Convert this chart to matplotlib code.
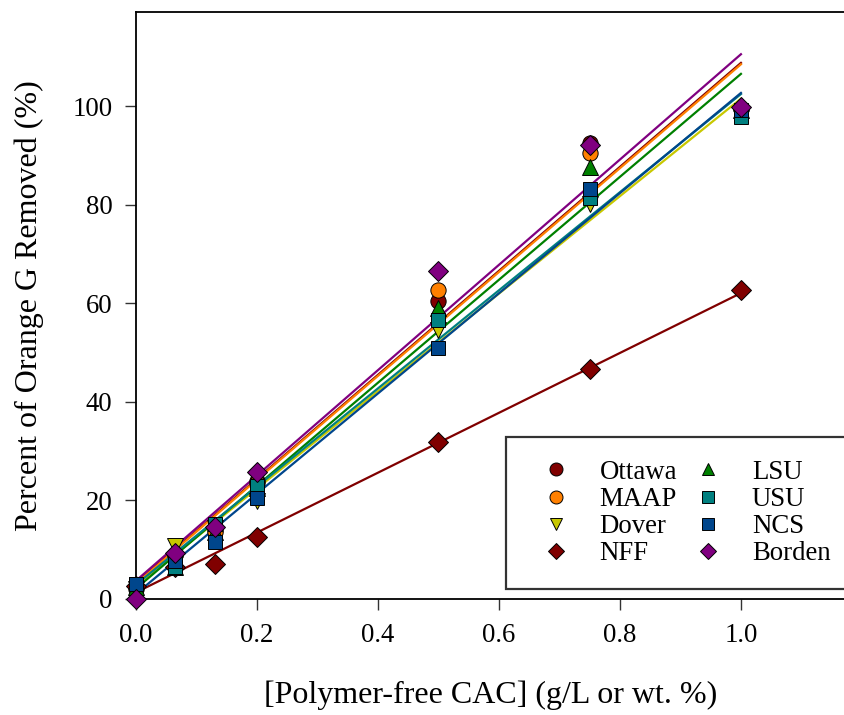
import numpy as np
import matplotlib
matplotlib.use("Agg")
import matplotlib.pyplot as plt

plt.rcParams["font.family"] = ["Liberation Serif", "DejaVu Serif"]

# concentration of polymer-free CAC (g/L or wt. %)
conc = [0.0, 0.065, 0.13, 0.2, 0.5, 0.75, 1.0]

# percent of Orange G removed (%)
ottawa = [2.5, 9.0, 14.0, 24.0, 60.5, 92.5, 99.5]
maap = [2.0, 9.0, 13.5, 23.5, 62.7, 90.4, 99.5]
dover = [2.0, 10.7, 14.5, 19.8, 54.5, 80.2, 98.3]
nff = [2.7, 6.5, 7.2, 12.6, 31.8, 46.6, 62.6]
lsu = [2.5, 6.5, 13.5, 22.5, 59.0, 87.7, 99.3]
usu = [3.0, 6.5, 15.3, 23.0, 56.7, 81.4, 97.8]
ncs = [3.0, 7.8, 11.5, 20.5, 51.0, 83.2, 99.2]
borden = [0.0, 9.4, 14.7, 25.8, 66.6, 92.1, 99.9]

names = ["Ottawa", "MAAP", "Dover", "NFF", "LSU", "USU", "NCS", "Borden"]
series = [ottawa, maap, dover, nff, lsu, usu, ncs, borden]
colors = ["#800000", "#ff8000", "#c8c800", "#800000", "#008000", "#008080", "#00468c", "#800080"]
markers = ["o", "o", "v", "D", "^", "s", "s", "D"]
sizes = [11, 11, 11, 10, 11, 10.5, 10.5, 10]

fig = plt.figure(figsize=(8.44, 7.15), dpi=100)
ax = fig.add_axes([136 / 844, 1 - 599 / 715, 709 / 844, 587 / 715])

x = np.array(conc)
xl = np.linspace(0, 1.0, 50)
# linear fits under the markers
for y, c in zip(series, colors):
    k, b = np.polyfit(x, np.array(y), 1)
    ax.plot(xl, k * xl + b, color=c, lw=1.6, zorder=2)

handles = []
for y, c, m, ms, n in zip(series, colors, markers, sizes, names):
    h, = ax.plot(x, y, ls="none", marker=m, ms=ms, mfc=c, mec="black", mew=0.7,
                 clip_on=False, zorder=3, label=n)
    handles.append(h)

ax.set_xlim(0, 1.172)
ax.set_ylim(0, 119.1)
ax.set_xticks([0.0, 0.2, 0.4, 0.6, 0.8, 1.0])
ax.set_xticklabels(["0.0", "0.2", "0.4", "0.6", "0.8", "1.0"])
ax.set_yticks([0, 20, 40, 60, 80, 100])
ax.tick_params(direction="out", length=8, width=1, pad=9, labelsize=19.3,
               top=False, right=False, color="#333333")
for s in ax.spines.values():
    s.set_linewidth(1.3)
ax.set_xlabel("[Polymer-free CAC] (g/L or wt. %)", fontsize=23, labelpad=24)
ax.set_ylabel("Percent of Orange G Removed (%)", fontsize=23, labelpad=20)

leg = fig.legend(handles=handles, ncol=2, loc="upper left",
                 bbox_to_anchor=(506 / 844, 1 - 437 / 715), bbox_transform=fig.transFigure,
                 prop={"family": "Liberation Serif", "size": 19.3},
                 markerscale=0.85, frameon=True, fancybox=False,
                 borderpad=0.85, handlelength=2.0, handletextpad=0.64,
                 columnspacing=0.15, labelspacing=0.08, borderaxespad=0)
leg.get_frame().set_edgecolor("black")
leg.get_frame().set_linewidth(1.6)

fig.savefig("out.png", dpi=100)
